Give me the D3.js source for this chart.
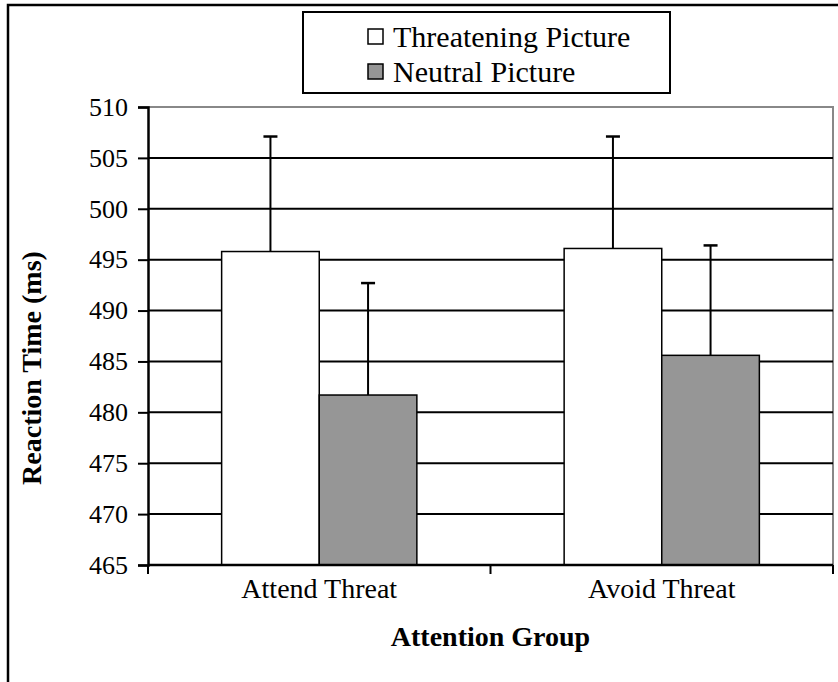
<!DOCTYPE html>
<html>
<head>
<meta charset="utf-8">
<script src="https://cdn.jsdelivr.net/npm/d3@7"></script>
<style>
  body { margin: 0; background: #fff; }
  text { font-family: "Liberation Serif", "Times New Roman", serif; fill: #000; }
</style>
</head>
<body>
<div class="js-vis"></div>
<script>
"use strict";

// data
var groups = ["Attend Threat", "Avoid Threat"],
    series = ["Threatening Picture", "Neutral Picture"],
    threatening = [495.8, 496.1],
    neutral = [481.7, 485.6],
    threateningErr = [11.3, 11.0],
    neutralErr = [11.0, 10.8],
    yTicks = [465, 470, 475, 480, 485, 490, 495, 500, 505, 510];

var colors = { "Threatening Picture": "#ffffff", "Neutral Picture": "#969696" };

var W = 838, H = 682;
var margin = { top: 107, right: 5, bottom: 117, left: 148 },
    width = W - margin.left - margin.right,
    height = H - margin.top - margin.bottom;

var svg = d3.select(".js-vis").append("svg").attr("width", W).attr("height", H);

// outer frame (runs off the bottom/right of the picture)
svg.append("rect").attr("x", 8).attr("y", 5).attr("width", W + 10).attr("height", H + 10)
  .attr("fill", "none").attr("stroke", "#000").attr("stroke-width", 2.5);

var vis = svg.append("g").attr("transform", "translate(" + margin.left + "," + margin.top + ")");

var y = d3.scaleLinear().domain([465, 510]).range([height, 0]);
var x0 = d3.scaleBand().domain(groups).range([0, width]).paddingInner(0.43).paddingOuter(0.215);
var x1 = d3.scaleBand().domain(series).range([0, x0.bandwidth()]);

// plot frame, top and right in grey
vis.append("path").attr("d", "M0,0H" + width + "V" + height)
  .attr("fill", "none").attr("stroke", "#888").attr("stroke-width", 2);

// gridlines
vis.append("g").selectAll("line").data(yTicks.filter(function (d) { return d > 465 && d < 510; }))
  .enter().append("line")
  .attr("x1", 0).attr("x2", width)
  .attr("y1", function (d) { return y(d); }).attr("y2", function (d) { return y(d); })
  .attr("stroke", "#000").attr("stroke-width", 2);

var rows = [];
groups.forEach(function (g, i) {
  rows.push({ g: g, s: series[0], v: threatening[i], e: threateningErr[i] });
  rows.push({ g: g, s: series[1], v: neutral[i], e: neutralErr[i] });
});

vis.append("g").selectAll("rect").data(rows).enter().append("rect")
  .attr("x", function (d) { return x0(d.g) + x1(d.s); })
  .attr("y", function (d) { return y(d.v); })
  .attr("width", x1.bandwidth())
  .attr("height", function (d) { return height - y(d.v); })
  .attr("fill", function (d) { return colors[d.s]; })
  .attr("stroke", "#000").attr("stroke-width", 1.5);

// error bars (upper only)
var eb = vis.append("g").selectAll("g").data(rows).enter().append("g")
  .attr("transform", function (d) { return "translate(" + (x0(d.g) + x1(d.s) + x1.bandwidth() / 2) + ",0)"; });
eb.append("line").attr("y1", function (d) { return y(d.v); }).attr("y2", function (d) { return y(d.v + d.e); })
  .attr("stroke", "#000").attr("stroke-width", 2);
eb.append("line").attr("x1", -7).attr("x2", 7)
  .attr("y1", function (d) { return y(d.v + d.e); }).attr("y2", function (d) { return y(d.v + d.e); })
  .attr("stroke", "#000").attr("stroke-width", 2.5);

// y axis
var yax = vis.append("g").call(d3.axisLeft(y).tickValues(yTicks).tickSize(10).tickPadding(10).tickFormat(d3.format("d")));
yax.select(".domain").attr("stroke-width", 2.5);
yax.selectAll(".tick line").attr("stroke-width", 2);
yax.selectAll("text").style("font-size", "26px").attr("font-family", null);

// x axis: ticks at group boundaries
var xax = vis.append("g").attr("transform", "translate(0," + height + ")");
xax.append("line").attr("x1", 0).attr("x2", width).attr("stroke", "#000").attr("stroke-width", 2.5);
xax.selectAll("line.tk").data([0, width / 2, width]).enter().append("line").attr("class", "tk")
  .attr("x1", function (d) { return d; }).attr("x2", function (d) { return d; })
  .attr("y1", 0).attr("y2", 9).attr("stroke", "#000").attr("stroke-width", 2);
xax.selectAll("text").data(groups).enter().append("text")
  .attr("x", function (d) { return x0(d) + x0.bandwidth() / 2; })
  .attr("y", 33).attr("text-anchor", "middle").style("font-size", "28px")
  .text(function (d) { return d; });

// axis titles
vis.append("text").attr("x", width / 2).attr("y", height + 81).attr("text-anchor", "middle")
  .style("font-size", "28px").style("font-weight", "bold").text("Attention Group");
vis.append("text").attr("transform", "translate(-107," + (height / 2 + 32) + ") rotate(-90)")
  .attr("text-anchor", "middle").style("font-size", "28px").style("font-weight", "bold")
  .text("Reaction Time (ms)");

// legend
var leg = svg.append("g").attr("transform", "translate(303,12)");
leg.append("rect").attr("width", 367).attr("height", 81)
  .attr("fill", "#fff").attr("stroke", "#000").attr("stroke-width", 2);
var li = leg.selectAll("g").data(series).enter().append("g")
  .attr("transform", function (d, i) { return "translate(65," + (25 + i * 35) + ")"; });
li.append("rect").attr("x", 0).attr("y", -8).attr("width", 15).attr("height", 15)
  .attr("fill", function (d) { return colors[d]; }).attr("stroke", "#000").attr("stroke-width", 1.5);
li.append("text").attr("x", 25).attr("y", 10).style("font-size", "30px").text(function (d) { return d; });
</script>
</body>
</html>
